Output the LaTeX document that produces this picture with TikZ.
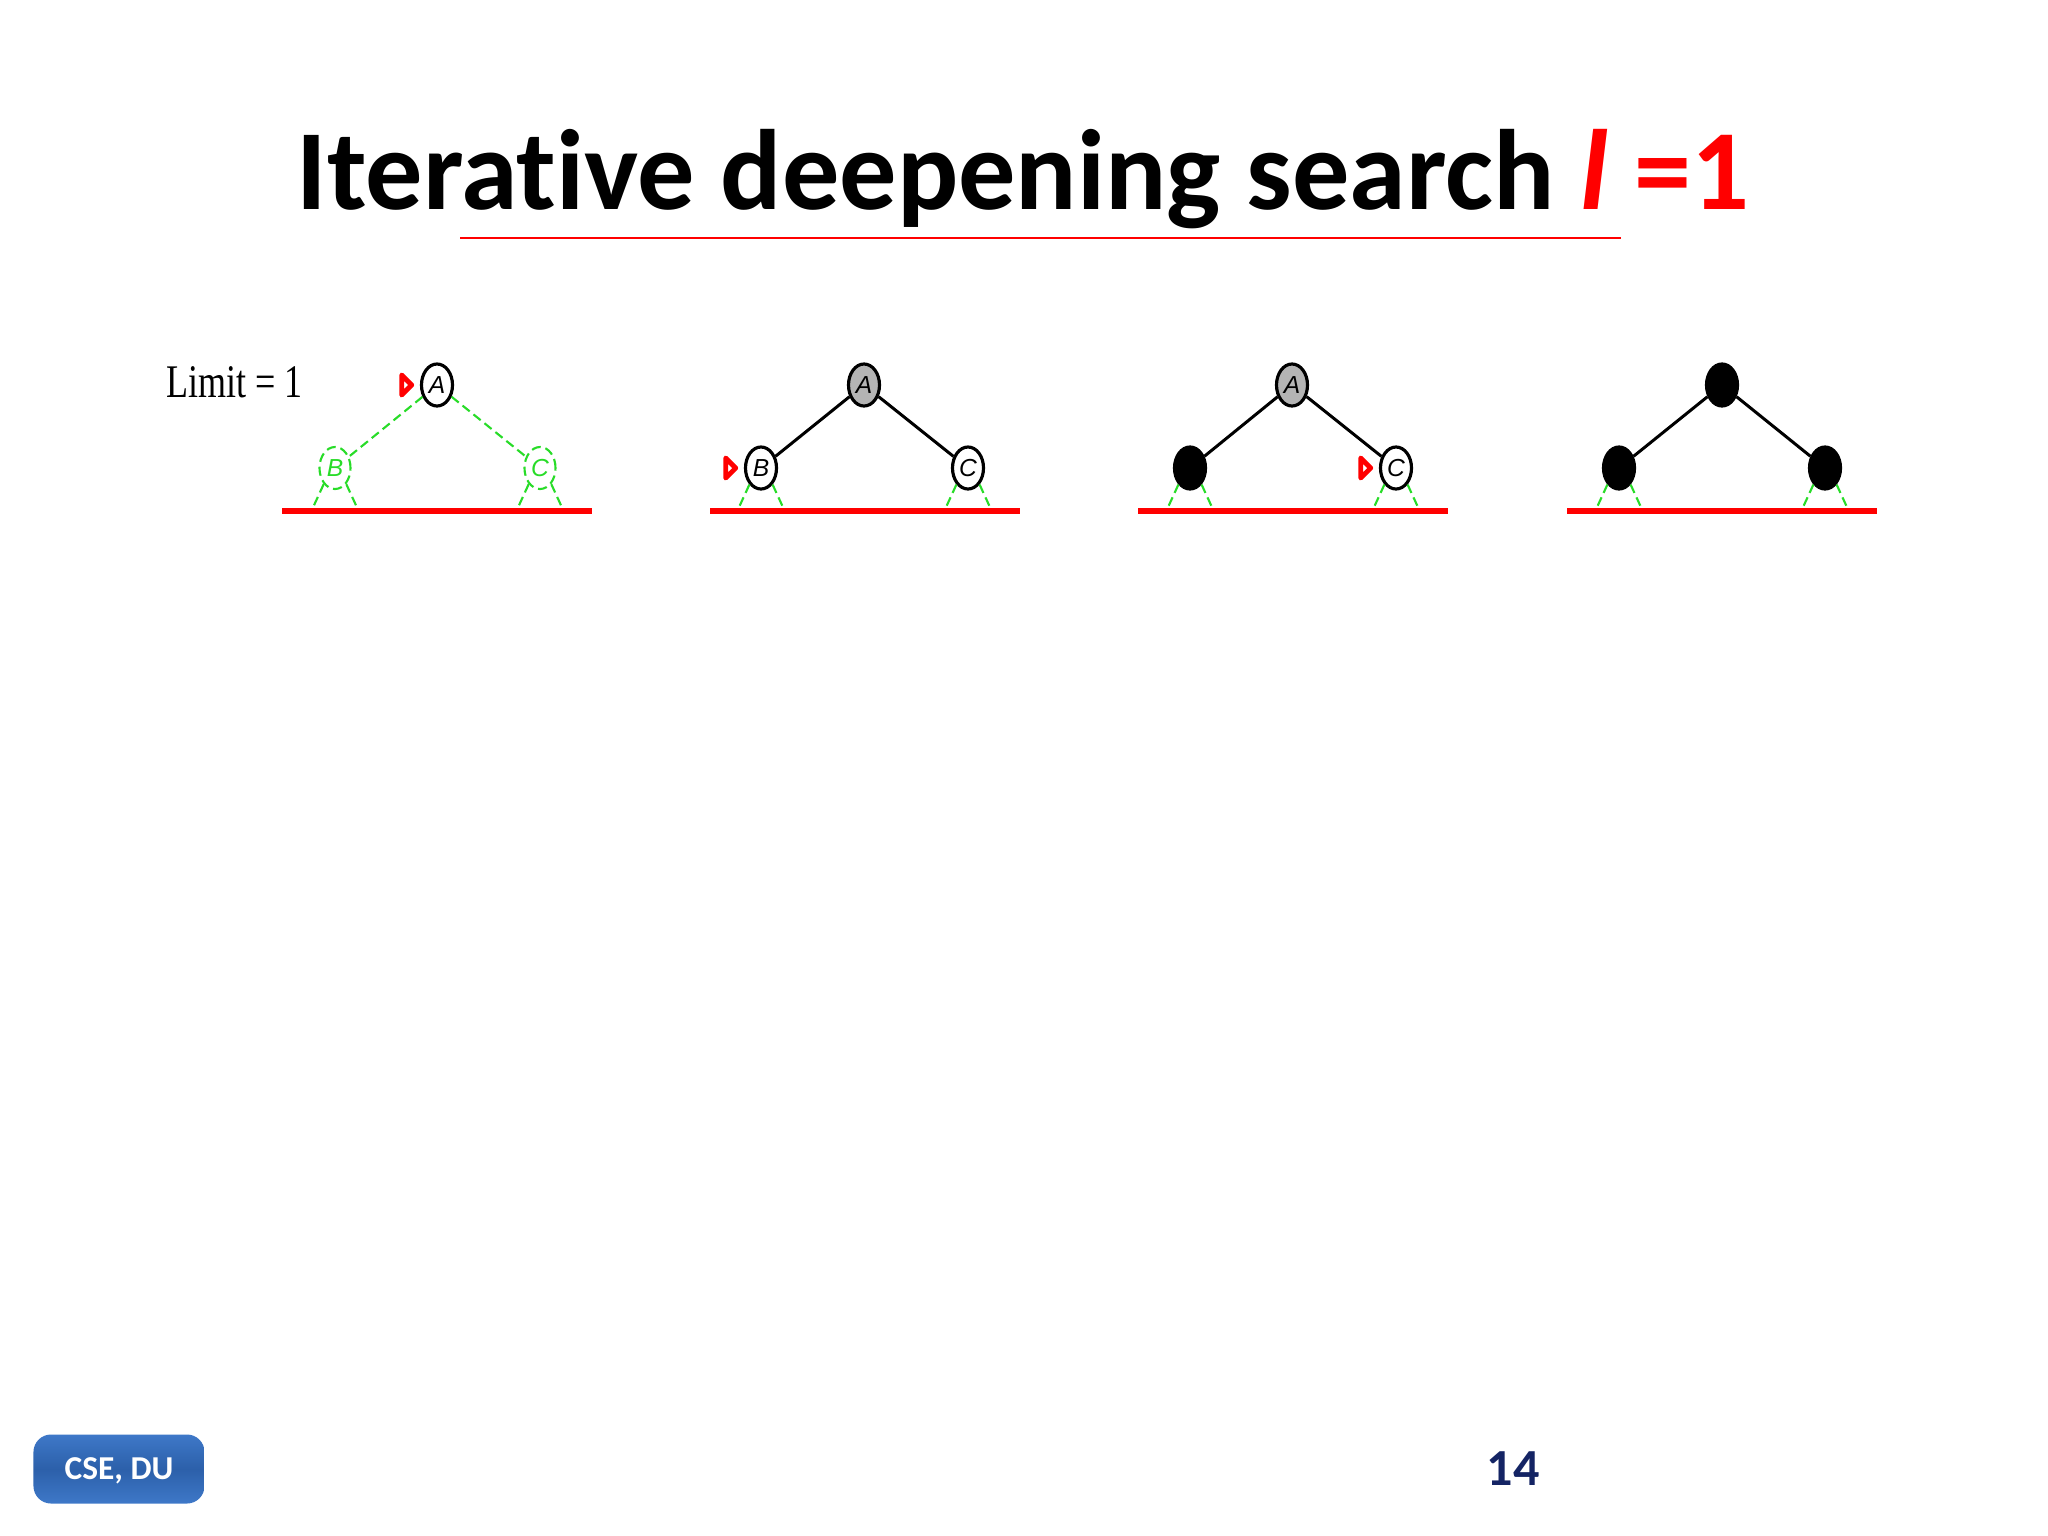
\documentclass[tikz,border=0pt]{standalone}
\usepackage{fontspec}
\setmainfont[Ligatures=NoCommon]{Carlito}
\newfontfamily\limitfont{Liberation Serif}
\newfontfamily\labelfont{Liberation Sans}
\usepackage{xcolor}
\usepackage{tikz}
\usetikzlibrary{shapes.geometric,positioning}

\definecolor{treegreen}{RGB}{40,220,40}
\definecolor{visitgray}{RGB}{180,180,180}
\definecolor{boxblue}{RGB}{62,120,200}
\definecolor{boxdark}{RGB}{44,96,170}
\definecolor{pagenavy}{RGB}{20,36,100}

\tikzset{
  vertex/.style={ellipse, draw, line width=0.9pt, fill=white, inner sep=0pt,
    minimum width=0.31cm, minimum height=0.42cm,
    font=\labelfont\itshape\fontsize{7}{7}\selectfont},
  ghost/.style={vertex, draw=treegreen, text=treegreen, line width=0.6pt,
    dash pattern=on 2.6pt off 1.4pt},
  expanded/.style={vertex, fill=visitgray},
  closed/.style={vertex, fill=black},
  link/.style={line width=0.85pt},
  ghostlink/.style={draw=treegreen, line width=0.6pt, dash pattern=on 2.6pt off 1.4pt},
  stub/.style={ghostlink},
  ground/.style={red, line width=1.9pt},
  cursor/.style={isosceles triangle, isosceles triangle stretches, draw=red, fill=white,
    line width=1.4pt, line join=round, inner sep=0pt, minimum height=0.1cm, minimum width=0.2cm}
}

\begin{document}
\begin{tikzpicture}[x=0.01cm, y=-0.01cm]
    \fill[white] (0,0) rectangle (2048,1536);
    \useasboundingbox (0,0) rectangle (2048,1536);

    % heading
    \node[anchor=base, font=\bfseries\fontsize{32.5}{39}\selectfont] (title) at (1023,209)
        {Iterative deepening search \textcolor{red}{\textit{l} =1}};
    \draw[red, line width=0.6pt] (460,238) -- (1621,238);

    \node[anchor=base west, inner sep=0pt, xscale=0.77, font=\limitfont\fontsize{13.3}{16}\selectfont] (limit) at (166,397) {Limit = 1};

    % step 1
    \node[vertex] (A1) at (437,385) {A};
    \node[ghost] (B1) at (335,468) {B};
    \node[ghost] (C1) at (540,468) {C};
    % step 2
    \node[expanded] (A2) at (864,385) {A};
    \node[vertex] (B2) at (761,468) {B};
    \node[vertex] (C2) at (968,468) {C};
    % step 3
    \node[expanded] (A3) at (1292,385) {A};
    \node[closed] (B3) at (1190,468) {};
    \node[vertex] (C3) at (1396,468) {C};
    % step 4
    \node[closed] (A4) at (1722,385) {};
    \node[closed] (B4) at (1619,468) {};
    \node[closed] (C4) at (1825,468) {};

    % current node
    \node[cursor, left=0.5pt of A1] (m1) {};
    \node[cursor, left=0.5pt of B2] (m2) {};
    \node[cursor, left=0.5pt of C3] (m3) {};

    \path
    (A1) edge [ghostlink] (B1)
    (A1) edge [ghostlink] (C1)
    (A2) edge [link] (B2)
    (A2) edge [link] (C2)
    (A3) edge [link] (B3)
    (A3) edge [link] (C3)
    (A4) edge [link] (B4)
    (A4) edge [link] (C4);

    \foreach \n in {B1,C1,B2,C2,B3,C3,B4,C4}{
        \path (\n.-125) ++(-11,24) coordinate (\n-l);
        \path (\n.-55) ++(11,24) coordinate (\n-r);
        \draw[stub] (\n.-125) -- (\n-l);
        \draw[stub] (\n.-55) -- (\n-r);
    }

    % depth limit
    \foreach \x in {282,710,1138,1567}
        \draw[ground] (\x,511) -- ++(310,0);

    % footer
    \node[rounded corners=5pt, top color=boxblue, bottom color=boxblue, middle color=boxdark,
        minimum width=1.71cm, minimum height=0.69cm, text=white, text height=0.21cm, text depth=0pt,
        font=\bfseries\fontsize{9.5}{11}\selectfont] (dept) at (119,1469) {CSE, DU};
    \node[anchor=base west, inner sep=0pt, text=pagenavy, font=\bfseries\fontsize{14.8}{18}\selectfont] (page) at (1486,1485) {14};
\end{tikzpicture}
\end{document}
